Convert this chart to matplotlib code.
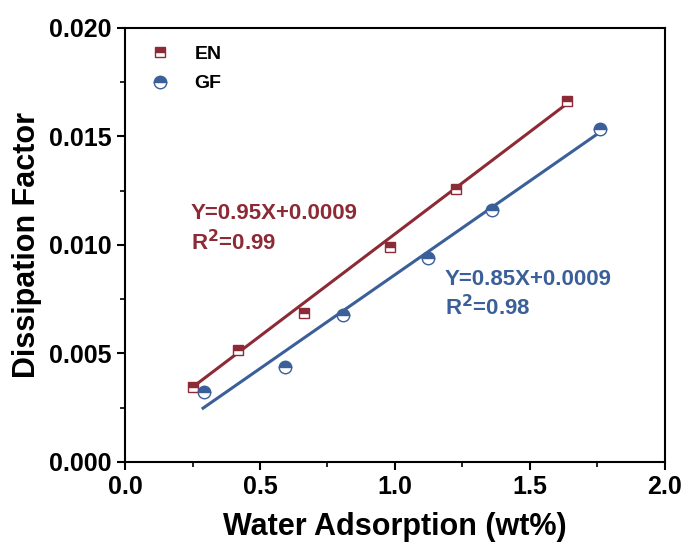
import numpy as np
import matplotlib.pyplot as plt
from matplotlib.ticker import MultipleLocator

plt.rcParams['font.family'] = ['Liberation Sans', 'DejaVu Sans']
plt.rcParams['font.weight'] = 'bold'

# data
en_x = [0.252, 0.419, 0.663, 0.981, 1.226, 1.637]
en_y = [0.00345, 0.00515, 0.00685, 0.00993, 0.0126, 0.01664]
gf_x = [0.293, 0.593, 0.807, 1.122, 1.359, 1.759]
gf_y = [0.00322, 0.00437, 0.00676, 0.00938, 0.01159, 0.01536]

# fitted lines as drawn: slope, intercept, x range
en_fit = (0.00942, 0.00109, 0.241, 1.637)
gf_fit = (0.00865, -0.00002, 0.289, 1.752)

red = '#8c2a35'
blue = '#3b5f99'

fig = plt.figure(figsize=(6.82, 5.49), dpi=100)
ax = fig.add_axes([0.1833, 0.1585, 0.7917, 0.7905])

for fit, c in [(en_fit, red), (gf_fit, blue)]:
    xs = np.array([fit[2], fit[3]])
    ax.plot(xs, fit[0] * xs + fit[1], color=c, lw=2.2, zorder=2)

ax.plot(en_x, en_y, ls='none', marker='s', fillstyle='top', ms=7,
        color=red, markerfacecoloralt='white', mec=red, mew=1.0,
        label='EN', zorder=3)
ax.plot(gf_x, gf_y, ls='none', marker='o', fillstyle='top', ms=9,
        color=blue, markerfacecoloralt='white', mec=blue, mew=1.0,
        label='GF', zorder=3)

ax.set_xlim(0, 2.0)
ax.set_ylim(0, 0.020)
ax.xaxis.set_major_locator(MultipleLocator(0.5))
ax.xaxis.set_minor_locator(MultipleLocator(0.25))
ax.yaxis.set_major_locator(MultipleLocator(0.005))
ax.yaxis.set_minor_locator(MultipleLocator(0.0025))
ax.yaxis.set_major_formatter(plt.FormatStrFormatter('%.3f'))
ax.xaxis.set_major_formatter(plt.FormatStrFormatter('%.1f'))
ax.tick_params(which='major', direction='out', length=6, width=1.5, labelsize=18)
ax.tick_params(which='minor', direction='out', length=3.5, width=1.2)
for s in ax.spines.values():
    s.set_linewidth(1.5)

ax.set_xlabel('Water Adsorption (wt%)', fontsize=22, fontweight='bold', labelpad=9)
ax.set_ylabel('Dissipation Factor', fontsize=22, fontweight='bold', labelpad=5)

ax.text(0.244, 0.01147, 'Y=0.95X+0.0009', color=red, fontsize=16,
        fontweight='bold', va='center')
ax.text(0.244, 0.01009, 'R$^\\mathbf{2}$=0.99', color=red, fontsize=16,
        fontweight='bold', va='center')
ax.text(1.185, 0.00839, 'Y=0.85X+0.0009', color=blue, fontsize=16,
        fontweight='bold', va='center')
ax.text(1.185, 0.0071, 'R$^\\mathbf{2}$=0.98', color=blue, fontsize=16,
        fontweight='bold', va='center')

leg = ax.legend(loc='upper left', frameon=False, fontsize=14,
                bbox_to_anchor=(-0.003, 1.0), handletextpad=0.75, labelspacing=0.6)

fig.savefig('out.png', dpi=100)
